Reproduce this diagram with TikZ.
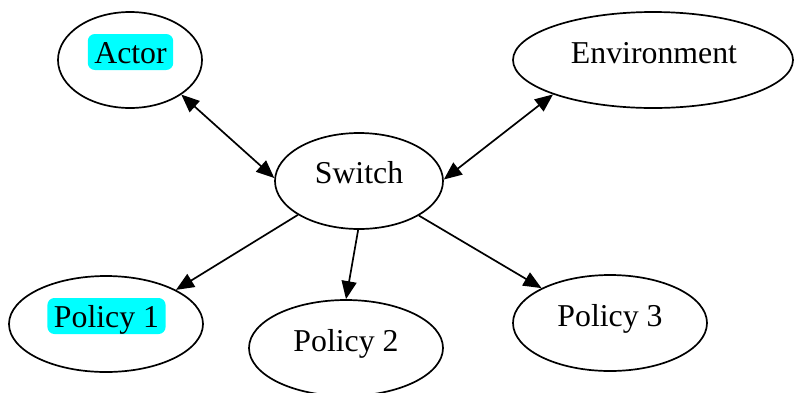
\documentclass[tikz,border=0pt]{standalone}
\usepackage{fontspec}
\setmainfont{Liberation Serif}
\usetikzlibrary{shapes.geometric,arrows.meta}
\definecolor{hlcyan}{RGB}{0,255,255}
\begin{document}
\begin{tikzpicture}[x=1pt,y=-1pt,
  ell/.style={draw,ellipse,line width=1.7pt,inner sep=0pt,minimum height=96pt},
  lbl/.style={anchor=base,inner sep=0pt,font=\fontsize{31.8}{36}\selectfont},
  hl/.style={lbl,fill=hlcyan,rounded corners=7pt,inner xsep=6.5pt,inner ysep=1pt,text height=28pt,text depth=6pt},
  edge/.style={line width=1.7pt,-{Triangle[length=18pt,width=15pt]}},
  bedge/.style={line width=1.7pt,{Triangle[length=18pt,width=15pt]}-{Triangle[length=18pt,width=15pt]}}]
\useasboundingbox (0,0) rectangle (795,392);
\node[ell,minimum width=144pt] (actor) at (130,60) {};
\node[ell,minimum width=280pt] (env) at (653,60) {};
\node[ell,minimum width=168pt] (switch) at (359,181) {};
\node[ell,minimum width=194pt] (p1) at (106,324) {};
\node[ell,minimum width=194pt] (p2) at (346,348) {};
\node[ell,minimum width=194pt] (p3) at (610,323) {};
\node[hl] (tactor) at (130.5,63) {Actor};
\node[lbl] (tenv) at (654,63) {Environment};
\node[lbl] (tswitch) at (359,183) {Switch};
\node[hl] (tp1) at (106.5,327) {Policy 1};
\node[lbl] (tp2) at (346,351) {Policy 2};
\node[lbl] (tp3) at (610,326.5) {Policy 3};
\draw[bedge] (actor.-34) -- (switch.178);
\draw[bedge] (env.199.3) -- (switch.1);
\draw[edge] (switch.209) -- (p1.26.9);
\draw[edge] (switch.269) -- (p2.90);
\draw[edge] (switch.-30) -- (p3.153.4);
\end{tikzpicture}
\end{document}
